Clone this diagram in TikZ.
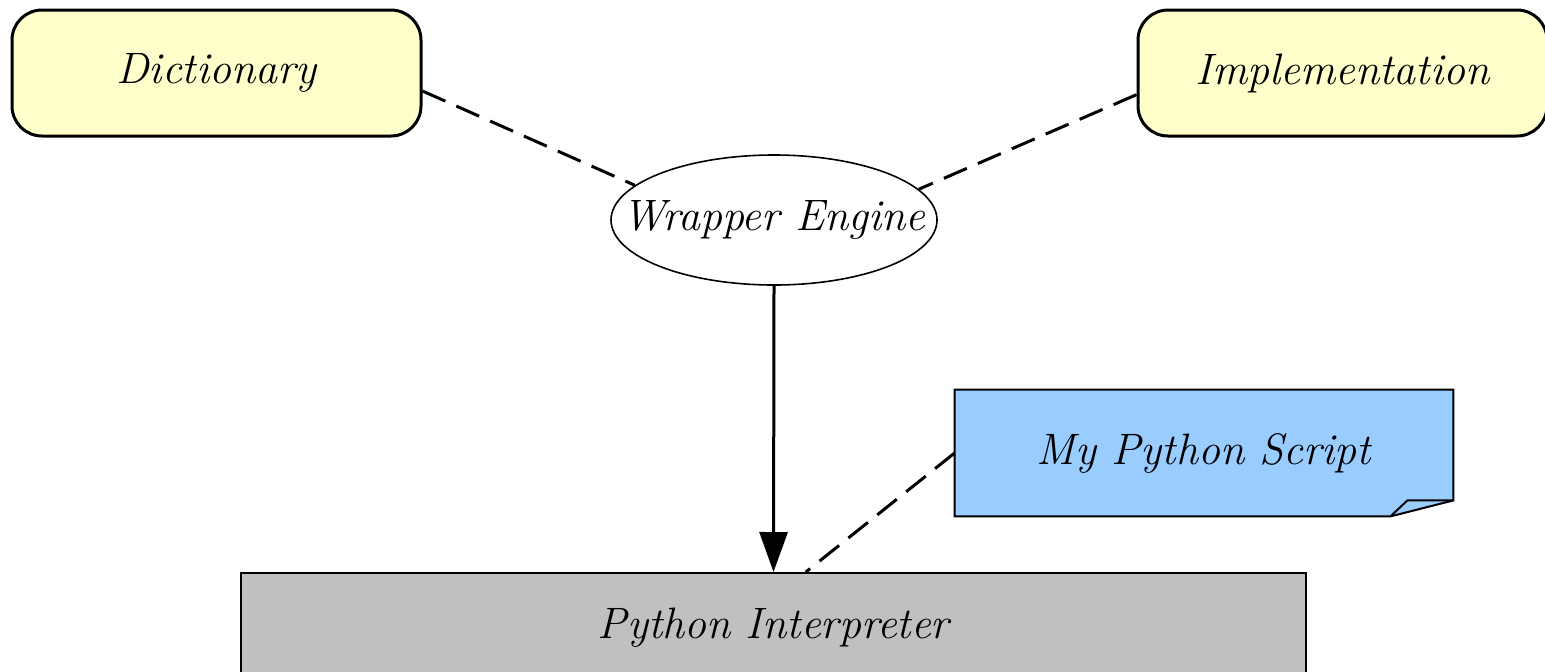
\documentclass[tikz,border=0pt]{standalone}
\usepackage{xcolor}
\usepackage{tikz}
\usetikzlibrary{positioning,calc,arrows.meta,shapes.geometric}
\definecolor{termyellow}{HTML}{FFFFCC}
\definecolor{scriptblue}{HTML}{99CCFF}
\definecolor{interpgray}{HTML}{C0C0C0}
\tikzset{
  figfont/.style={font=\fontsize{22}{26}\selectfont\itshape},
  figline/.style={line width=1.5pt},
  termbox/.style={draw, figline, fill=termyellow, rounded corners=15pt,
    minimum width=204.5pt, minimum height=63pt, inner sep=0pt},
  enginebox/.style={draw, line width=0.8pt, ellipse, fill=white,
    minimum width=163pt, minimum height=65pt, inner sep=0pt},
  notebox/.style={minimum width=249pt, minimum height=63pt, inner sep=0pt},
  interpbox/.style={draw, line width=1pt, fill=interpgray,
    minimum width=532.5pt, minimum height=55pt, inner sep=0pt},
  figdash/.style={figline, dash pattern=on 12.5pt off 6pt},
  figarrow/.style={-{Triangle[length=20pt, width=14pt]}, figline},
}
\begin{document}
\begin{tikzpicture}[figfont, x=0.5pt, y=-0.5pt]
  \useasboundingbox (0,0) rectangle (1545,671);

  % Top nodes
  \node[termbox] (dict) at (216.5,73) {Dictionary};
  \node[termbox] (impl) at (1342.5,73) {Implementation};
  \node[enginebox, label=center:{Wrapper Engine}] (wrap) at (774,220) {};

  % Script note with folded corner
  \node[notebox] (script) at (1204,453) {};
  \draw[line width=1pt, fill=scriptblue] (script.north west) -- (script.north east)
    -- ($(script.south east)+(0,-16)$) -- ($(script.south east)+(-63,0)$)
    -- (script.south west) -- cycle;
  \draw[line width=1pt] ($(script.south east)+(-63,0)$) -- ($(script.south east)+(-46,-16)$)
    -- ($(script.south east)+(0,-16)$);
  \node at (script) {My Python Script};

  % Bottom node
  \node[interpbox] (interp) at (773.5,628) {Python Interpreter};

  % Dashed links
  \draw[figdash] (dict.-5) -- (wrap.166);
  \draw[figdash] (impl.186) -- (wrap.12);
  \draw[figdash] (script.west) -- (interp.60);

  % Call arrow
  \draw[figarrow] (wrap.south) -- (interp.north);
\end{tikzpicture}
\end{document}
